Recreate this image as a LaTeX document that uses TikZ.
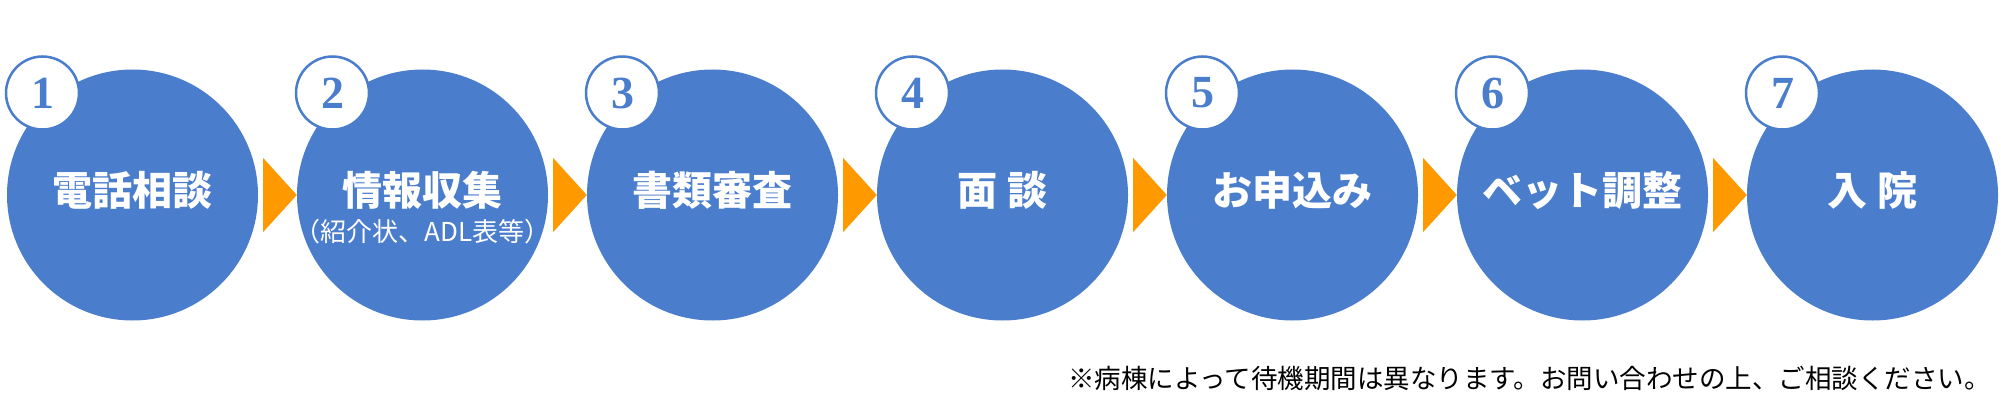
\documentclass[tikz,border=0pt]{standalone}
\usepackage{fontspec}
\setmainfont{Liberation Serif}
\newfontfamily\cjk{Noto Sans CJK JP}
\usetikzlibrary{calc}
\definecolor{stepblue}{HTML}{4B7DCD}
\definecolor{steporange}{HTML}{FF9900}
\tikzset{
  bigc/.style={circle,fill=stepblue,minimum size=251pt,inner sep=0pt},
  numc/.style={circle,fill=white,draw=stepblue,line width=2.5pt,minimum size=73pt,inner sep=0pt,
    text=stepblue,font=\fontsize{46}{46}\selectfont\bfseries},
  ttl/.style={text=white,inner sep=0pt,font=\cjk\bfseries\fontsize{40}{48}\selectfont},
  subttl/.style={text=white,inner sep=0pt,font=\cjk\fontsize{26}{30}\selectfont},
  chev/.style={fill=steporange},
  note/.style={text=black,inner sep=0pt,font=\cjk\fontsize{26.5}{30}\selectfont}
}
\begin{document}
\begin{tikzpicture}[x=1pt,y=-1pt]
\useasboundingbox (0,0) rectangle (2001,417);
\foreach \i/\t in {1/電話相談,2/情報収集,3/書類審査,4/面 談,5/お申込み,6/ベット調整,7/入 院}{
  \pgfmathsetmacro{\cx}{132.5+290*(\i-1)}
  \node[bigc] (c\i) at (\cx,195) {};
  \node[ttl] (t\i) at (\cx,190) {\t};
  \node[numc] (n\i) at (\cx-90,93) {\i};
}
\node[subttl] (s2) at (c2.center |- 0,232) {（紹介状、ADL表等）};
\foreach \i [count=\j from 2] in {1,...,6}{
  \fill[chev] ($(c\i.east)+(5,-37)$) -- ($(c\j.west)+(0,0)$) -- ($(c\i.east)+(5,37)$) -- cycle;
}
\node[note,anchor=east] (nt) at (1991,378) {※病棟によって待機期間は異なります。お問い合わせの上、ご相談ください。};
\end{tikzpicture}
\end{document}
